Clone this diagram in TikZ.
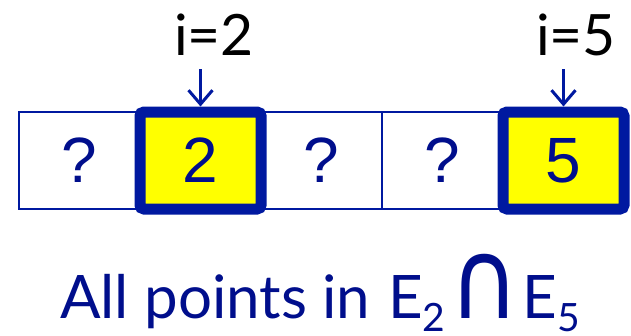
\documentclass[tikz,border=0pt]{standalone}
\usepackage{fontspec}
\setmainfont{Lato}
\newfontfamily\arialfont{Liberation Sans}
\newfontfamily\symfont{DejaVu Sans}
\usetikzlibrary{arrows.meta}
\definecolor{dblue}{HTML}{0019A0}
\definecolor{tblue}{HTML}{000E8C}
\definecolor{yel}{HTML}{FFFF00}
\newcommand{\subdigit}[1]{\raisebox{-13pt}{\fontsize{39}{39}\selectfont #1}}
\begin{document}
\begin{tikzpicture}[x=1pt,y=-1pt,
  cell/.style={draw=dblue, line width=1.5pt, minimum width=121pt, minimum height=97pt,
    inner sep=0pt, text=tblue, font=\arialfont\fontsize{64}{64}\selectfont},
  hcell/.style={cell, fill=yel, line width=11pt, rounded corners=4pt},
  lab/.style={anchor=base, inner sep=0pt, text=black, font=\fontsize{57}{57}\selectfont},
  arr/.style={draw=dblue, line width=2.5pt, -{Straight Barb[length=14pt, width=24pt, line width=3pt]}},
  captext/.style={anchor=base west, inner sep=0pt, text=tblue, font=\fontsize{60}{60}\selectfont}
]
\useasboundingbox (0,0) rectangle (631,335);
\node[cell] (c1) at (79.5,160.5) {?};
\node[cell] (c3) at (321.5,160.5) {?};
\node[cell] (c4) at (442.5,160.5) {?};
\node[hcell] (c2) at (200.5,160.5) {2};
\node[hcell] (c5) at (563.5,160.5) {5};
\node[lab] (l2) at (214,55) {i=2};
\node[lab] (l5) at (576,55) {i=5};
\coordinate (a2) at (200.5,69);
\coordinate (a5) at (563.5,69);
\draw[arr] (a2) -- (c2.north);
\draw[arr] (a5) -- (c5.north);
\node[captext] (t) at (60,318) {All points in\hspace{18pt}E\subdigit{2}\hspace{4pt}{\symfont\scalebox{1.6}[1.85]{∩}}\hspace{3pt}E\subdigit{5}};
\end{tikzpicture}
\end{document}
